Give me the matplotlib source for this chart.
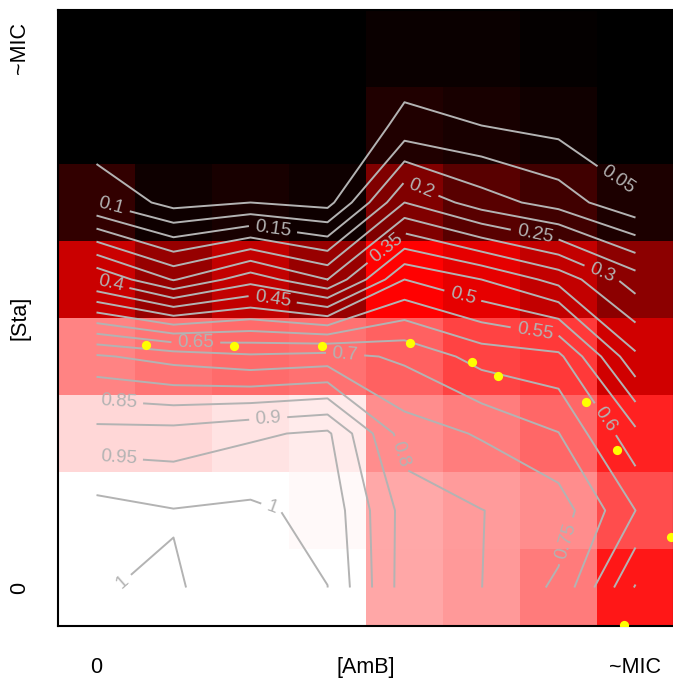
import numpy as np
import matplotlib
matplotlib.use('Agg')
import matplotlib.pyplot as plt
from matplotlib.colors import LinearSegmentedColormap

plt.rcParams['font.family'] = ['Liberation Sans', 'DejaVu Sans']

# grid values, one list per row, bottom row first
row_0 = [1.0013, 0.9963, 1.019, 1.0005, 0.827, 0.8005, 0.74, 0.546]
row_1 = [1.02, 1.002, 1.0095, 0.985, 0.831, 0.801, 0.777, 0.65]
row_2 = [0.92, 0.92, 0.942, 0.959, 0.774, 0.745, 0.7015, 0.563]
row_3 = [0.757, 0.729, 0.709, 0.72, 0.69, 0.63, 0.613, 0.409]
row_4 = [0.395, 0.296, 0.38, 0.3, 0.5, 0.45, 0.382, 0.275]
row_5 = [0.1, 0.03, 0.05, 0.031, 0.25, 0.174, 0.128, 0.0575]
row_6 = [0, 0, 0, 0, 0.063, 0.05, 0.033, 0]
row_7 = [0, 0, 0, 0, 0.02, 0.02, 0.01, 0]

amb_points = [1.14, 2.29, 3.43, 4.57, 5.38, 5.71, 6.86, 7.26, 7.96, 7.35]
sta_points = [3.65, 3.64, 3.64, 3.68, 3.43, 3.25, 2.91, 2.29, 1.16, 0.01]

tick_values = [0.5, 4, 7.5]
x_tick_labels = ['0', '[AmB]', '~MIC']
y_tick_labels = ['0', '[Sta]', '~MIC']

levels = np.arange(1, 21) * 0.05

# where each contour label sits, in cell units
label_spots = [(7.26, 5.78), (0.68, 5.40), (2.79, 5.14), (4.71, 5.68), (6.19, 5.08),
               (7.06, 4.57), (4.27, 4.91), (0.68, 4.42), (2.79, 4.26), (5.26, 4.30),
               (6.19, 3.82), (7.10, 2.68), (1.79, 3.69), (3.73, 3.55), (6.62, 1.10),
               (4.42, 2.22), (0.79, 2.92), (2.73, 2.70), (0.79, 2.21), (2.78, 1.55),
               (0.81, 0.60)]

z = np.array([row_0, row_1, row_2, row_3, row_4, row_5, row_6, row_7])
centers = np.arange(8) + 0.5
cmap = LinearSegmentedColormap.from_list('brw', ['black', 'red', 'white'])

fig = plt.figure(figsize=(6.73, 6.81), dpi=100)
ax = fig.add_axes([58 / 673, 55 / 681, 616 / 673, 616 / 681])

ax.imshow(z, origin='lower', extent=(0, 8, 0, 8), cmap=cmap, vmin=0, vmax=1,
          aspect='auto', interpolation='nearest')
cs = ax.contour(centers, centers, z, levels=levels, colors='#b3b3b3', linewidths=1.4)
labels = ax.clabel(cs, fmt='%g', fontsize=13.5, manual=label_spots, inline=True, inline_spacing=6)

ax.scatter(amb_points, sta_points, s=44, color='yellow', linewidths=0, zorder=3)

ax.set_xlim(0, 8)
ax.set_ylim(0, 8)
ax.set_xticks(tick_values)
ax.set_xticklabels(x_tick_labels, fontsize=15.5)
ax.set_yticks(tick_values)
ax.set_yticklabels(y_tick_labels, fontsize=15.5, rotation=90, va='center')
ax.tick_params(axis='x', length=0, pad=22)
ax.tick_params(axis='y', length=0, pad=20)
for side in ax.spines:
    ax.spines[side].set_linewidth(1.5)

fig.savefig('out.png', dpi=100)
